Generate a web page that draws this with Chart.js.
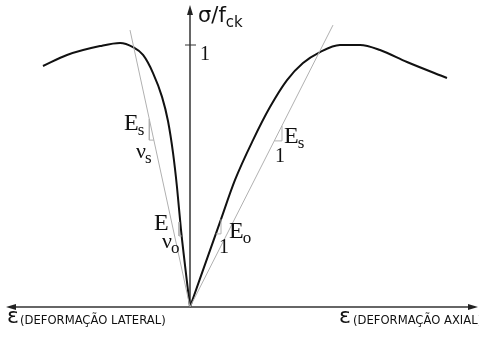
<!DOCTYPE html>
<html>
<head>
<meta charset="utf-8">
<script src="https://cdn.jsdelivr.net/npm/chart.js@4/dist/chart.umd.min.js"></script>
<style>
  html, body { margin: 0; padding: 0; background: #fff; }
  canvas { display: block; }
</style>
</head>
<body>
<canvas id="chartCanvas" width="479" height="340"></canvas>
<script>
// strain (per mille) and relative stress sigma/fck
const axialStrain   = [0, 0.387, 0.581, 0.813, 1.032, 1.252, 1.458, 1.677, 1.935, 2.194, 2.452, 2.8, 3.316];
const axialStress   = [0, 0.324, 0.485, 0.637, 0.763, 0.866, 0.931, 0.973, 1.0, 1.0, 0.981, 0.935, 0.874];
const lateralStrain = [-1.897, -1.587, -1.161, -0.903, -0.735, -0.606, -0.477, -0.361, -0.284, -0.219, -0.168, -0.116, 0];
const lateralStress = [0.920, 0.962, 0.996, 1.008, 0.992, 0.962, 0.893, 0.802, 0.710, 0.588, 0.458, 0.294, 0];

// secant lines (Es) from the origin
const axialSecant   = [[0, 0], [1.845, 1.076]];
const lateralSecant = [[0, 0], [-0.774, 1.057]];

// little slope triangles
const triAxialEs   = [[1.088, 0.634], [1.187, 0.634], [1.187, 0.691]];
const triAxialEo   = [[0.333, 0.279], [0.400, 0.279], [0.400, 0.335]];
const triLateralEs = [[-0.525, 0.717], [-0.525, 0.637], [-0.466, 0.637]];
const triLateralEo = [[-0.142, 0.324], [-0.142, 0.271], [-0.108, 0.271]];

const yTicks = [1];

const toPts = (xs, ys) => xs.map((x, i) => ({ x: x, y: ys[i] }));
const pairs = arr => arr.map(p => ({ x: p[0], y: p[1] }));

const curveStyle = { showLine: true, pointRadius: 0, borderColor: '#111', borderWidth: 2, cubicInterpolationMode: 'monotone', fill: false };
const thinStyle  = { showLine: true, pointRadius: 0, borderColor: '#b0b0b0', borderWidth: 1, tension: 0, fill: false };

const axesPlugin = {
    id: 'axesPlugin',
    beforeDatasetsDraw(c) {
        const ctx = c.ctx;
        const x0 = c.scales.x.getPixelForValue(0);
        const y0 = c.scales.y.getPixelForValue(0);
        ctx.save();
        ctx.strokeStyle = '#333';
        ctx.fillStyle = '#222';
        ctx.lineWidth = 1.5;
        // horizontal axis
        ctx.beginPath();
        ctx.moveTo(12, y0); ctx.lineTo(c.width - 4, y0);
        ctx.stroke();
        ctx.beginPath();
        ctx.moveTo(6, y0); ctx.lineTo(16, y0 - 3); ctx.lineTo(16, y0 + 3); ctx.closePath(); ctx.fill();
        ctx.beginPath();
        ctx.moveTo(c.width - 1, y0); ctx.lineTo(c.width - 11, y0 - 3); ctx.lineTo(c.width - 11, y0 + 3); ctx.closePath(); ctx.fill();
        // vertical axis
        ctx.beginPath();
        ctx.moveTo(x0, y0); ctx.lineTo(x0, 12);
        ctx.stroke();
        ctx.beginPath();
        ctx.moveTo(x0, 5); ctx.lineTo(x0 - 3, 15); ctx.lineTo(x0 + 3, 15); ctx.closePath(); ctx.fill();
        // ticks on the stress axis
        ctx.lineWidth = 1;
        yTicks.forEach(t => {
            const yp = c.scales.y.getPixelForValue(t);
            ctx.beginPath(); ctx.moveTo(x0 - 5, yp); ctx.lineTo(x0 + 6, yp); ctx.stroke();
        });
        ctx.restore();
    },
    afterDraw(c) {
        const ctx = c.ctx;
        const x0 = c.scales.x.getPixelForValue(0);
        ctx.save();
        ctx.fillStyle = '#111';
        ctx.textBaseline = 'alphabetic';
        // axis title
        ctx.font = '21px "DejaVu Sans"';
        ctx.fillText('σ/f', x0 + 8, 22);
        let w = ctx.measureText('σ/f').width;
        ctx.font = '15px "DejaVu Sans"';
        ctx.fillText('ck', x0 + 8 + w, 27);
        // tick labels
        ctx.font = '20px "Liberation Serif"';
        yTicks.forEach(t => {
            ctx.fillText(String(t), x0 + 10, c.scales.y.getPixelForValue(t) + 15);
        });
        // modulus labels
        const sub = (main, s, x, y, big, small) => {
            ctx.font = big + 'px "Liberation Serif"';
            ctx.fillText(main, x, y);
            const mw = ctx.measureText(main).width;
            ctx.font = small + 'px "Liberation Serif"';
            ctx.fillText(s, x + mw - 1, y + 5);
        };
        sub('E', 's', 124, 130, 24, 17);
        sub('ν', 's', 136, 158, 22, 17);
        sub('E', 's', 284, 143, 24, 17);
        sub('E', 'o', 229, 238, 24, 17);
        ctx.font = '24px "Liberation Serif"';
        ctx.fillText('E', 154, 230);
        sub('ν', 'o', 162, 248, 22, 17);
        ctx.font = '20px "Liberation Serif"';
        ctx.fillText('1', 275, 162);
        ctx.fillText('1', 219, 253);
        // strain labels
        ctx.font = '22px "DejaVu Sans"';
        ctx.fillText('ε', 7, 323);
        ctx.fillText('ε', 339, 323);
        ctx.font = '11.6px "DejaVu Sans"';
        ctx.fillText('(DEFORMAÇÃO LATERAL)', 20, 324);
        ctx.fillText('(DEFORMAÇÃO AXIAL)', 353, 324);
        ctx.restore();
    }
};

new Chart(document.getElementById('chartCanvas'), {
    type: 'scatter',
    data: {
        datasets: [
            Object.assign({ data: pairs(axialSecant) }, thinStyle),
            Object.assign({ data: pairs(lateralSecant) }, thinStyle),
            Object.assign({ data: pairs(triAxialEs) }, thinStyle),
            Object.assign({ data: pairs(triAxialEo) }, thinStyle),
            Object.assign({ data: pairs(triLateralEs) }, thinStyle),
            Object.assign({ data: pairs(triLateralEo) }, thinStyle),
            Object.assign({ data: toPts(axialStrain, axialStress) }, curveStyle),
            Object.assign({ data: toPts(lateralStrain, lateralStress) }, curveStyle)
        ]
    },
    options: {
        responsive: false,
        animation: false,
        layout: { padding: 0 },
        plugins: { legend: { display: false }, tooltip: { enabled: false } },
        scales: {
            x: { type: 'linear', display: false, min: -2.4516, max: 3.729 },
            y: { type: 'linear', display: false, min: -0.126, max: 1.1718 }
        }
    },
    plugins: [axesPlugin]
});
</script>
</body>
</html>
